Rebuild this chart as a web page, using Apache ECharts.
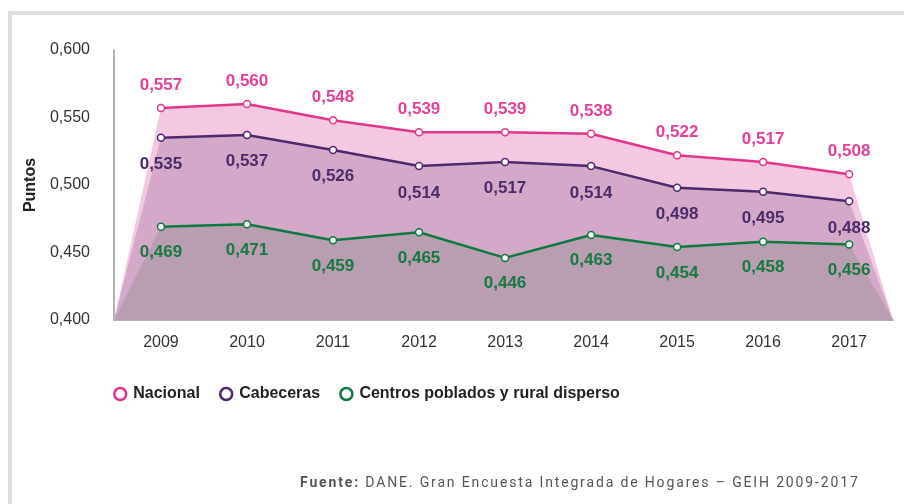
<!DOCTYPE html>
<html>
<head>
<meta charset="utf-8">
<script src="https://cdn.jsdelivr.net/npm/echarts@6/dist/echarts.min.js"></script>
<style>
  html, body { margin: 0; padding: 0; background: #fff; }
  #wrap { position: relative; width: 904px; height: 504px; }
  #chart { width: 904px; height: 504px; }
  #fuente {
    position: absolute; left: 300px; top: 474px;
    font: 14px Roboto, sans-serif; color: #555;
    letter-spacing: 1.85px; white-space: nowrap; line-height: 17px;
  }
  #fuente b { font-weight: bold; }
</style>
</head>
<body>
<div id="wrap">
  <div id="chart"></div>
  <div id="fuente"><b>Fuente:</b> DANE. Gran Encuesta Integrada de Hogares &ndash; GEIH 2009-2017</div>
</div>
<script>
  // datos
  var years = [2009, 2010, 2011, 2012, 2013, 2014, 2015, 2016, 2017]
  var nacional = [0.557, 0.560, 0.548, 0.539, 0.539, 0.538, 0.522, 0.517, 0.508]
  var cabeceras = [0.535, 0.537, 0.526, 0.514, 0.517, 0.514, 0.498, 0.495, 0.488]
  var centros = [0.469, 0.471, 0.459, 0.465, 0.446, 0.463, 0.454, 0.458, 0.456]
  var yTicks = [0.400, 0.450, 0.500, 0.550, 0.600]

  var xMin = 2008.454
  var xMax = 2017.51
  var yMin = yTicks[0]
  var yMax = yTicks[yTicks.length - 1]

  var chart = echarts.init(document.getElementById('chart'))

  function fmt(v) {
    return v.toFixed(3).replace('.', ',')
  }

  function pairs(vals) {
    return years.map(function (y, i) { return [y, vals[i]] })
  }

  // el area baja hasta los bordes del eje
  function areaData(vals) {
    return [[xMin, yMin]].concat(pairs(vals), [[xMax, yMin]])
  }

  function areaSeries(vals, color, z) {
    return {
      type: 'line',
      data: areaData(vals),
      symbol: 'none',
      silent: true,
      z: z,
      lineStyle: { width: 0 },
      areaStyle: { color: color, opacity: 1 }
    }
  }

  function lineSeries(name, vals, color, labelColor, pos, dist) {
    return {
      name: name,
      type: 'line',
      data: pairs(vals),
      z: 10,
      symbol: 'circle',
      symbolSize: 7,
      itemStyle: { color: '#fff', borderColor: color, borderWidth: 1.5 },
      lineStyle: { color: color, width: 2.5 },
      label: {
        show: true,
        position: pos,
        distance: dist,
        color: labelColor,
        fontFamily: 'Liberation Sans, Arial',
        fontWeight: 'bold',
        fontSize: 17,
        formatter: function (p) { return fmt(p.value[1]) }
      }
    }
  }

  chart.setOption({
    animation: false,
    grid: { left: 114, right: 11, top: 50, bottom: 184 },
    xAxis: {
      type: 'value',
      min: xMin,
      max: xMax,
      splitLine: { show: false },
      axisTick: { show: false },
      axisLine: { show: true, lineStyle: { color: '#b0b0b0', width: 2 } },
      axisLabel: {
        customValues: years,
        margin: 15,
        color: '#333',
        fontFamily: 'Liberation Sans, Arial',
        fontSize: 16,
        formatter: function (v) { return String(Math.round(v)) }
      }
    },
    yAxis: {
      type: 'value',
      min: yMin,
      max: yMax,
      interval: 0.05,
      name: 'Puntos',
      nameLocation: 'middle',
      nameRotate: 90,
      nameGap: 72,
      nameTextStyle: {
        color: '#222',
        fontFamily: 'Liberation Sans, Arial',
        fontWeight: 'bold',
        fontSize: 16
      },
      splitLine: { show: false },
      axisTick: { show: false },
      axisLine: { show: true, lineStyle: { color: '#999', width: 1.5 } },
      axisLabel: {
        margin: 24,
        color: '#333',
        fontFamily: 'Liberation Sans, Arial',
        fontSize: 16,
        formatter: fmt
      }
    },
    legend: {
      left: 113,
      top: 386,
      padding: 0,
      icon: 'circle',
      itemWidth: 12,
      itemHeight: 12,
      itemGap: 19,
      itemStyle: { borderWidth: 2.5 },
      textStyle: {
        color: '#222',
        fontFamily: 'Liberation Sans, Arial',
        fontWeight: 'bold',
        fontSize: 16,
        padding: [0, 0, 0, 2]
      },
      data: [
        { name: 'Nacional', itemStyle: { borderWidth: 2.5 } },
        { name: 'Cabeceras', itemStyle: { borderWidth: 2.5 } },
        { name: 'Centros poblados y rural disperso', itemStyle: { borderWidth: 2.5 } }
      ]
    },
    graphic: [
      { type: 'rect', shape: { x: 8, y: 11, width: 896, height: 4 }, style: { fill: '#dedede' }, silent: true },
      { type: 'rect', shape: { x: 8, y: 11, width: 4, height: 493 }, style: { fill: '#dedede' }, silent: true }
    ],
    series: [
      areaSeries(nacional, '#f4c8e0', 1),
      areaSeries(cabeceras, '#d4a8c9', 2),
      areaSeries(centros, '#b99db1', 3),
      lineSeries('Nacional', nacional, '#e0368e', '#e3409a', 'top', 10),
      lineSeries('Cabeceras', cabeceras, '#4d2a6d', '#4b2c6b', 'bottom', 14),
      lineSeries('Centros poblados y rural disperso', centros, '#0f7a40', '#177a40', 'bottom', 13)
    ]
  })
</script>
</body>
</html>
